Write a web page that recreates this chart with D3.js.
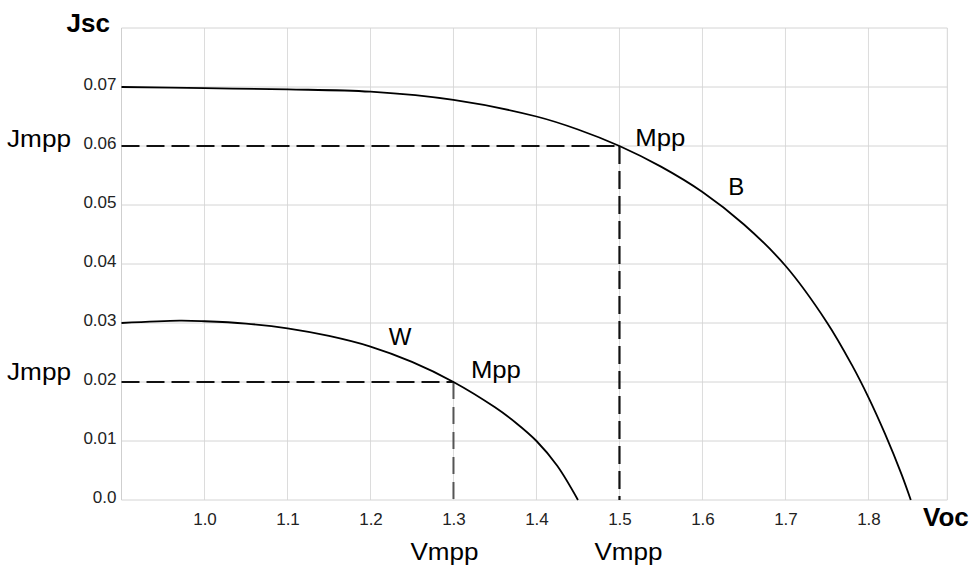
<!DOCTYPE html>
<html>
<head>
<meta charset="utf-8">
<script src="https://cdn.jsdelivr.net/npm/d3@7"></script>
<style>
  html, body { margin: 0; padding: 0; background: #fff; }
  svg { display: block; font-family: "Liberation Sans", Arial, Helvetica, sans-serif; }
</style>
</head>
<body>
<svg id="chart" width="971" height="567"></svg>
<script>
// ---- data ----
const bVoltage = [0.9, 1.0, 1.1, 1.2, 1.3, 1.4, 1.45, 1.5, 1.55, 1.6, 1.65, 1.7, 1.75, 1.78, 1.8, 1.82, 1.84, 1.851];
const bCurrent = [0.0700, 0.0698, 0.0696, 0.0692, 0.0678, 0.0650, 0.0628, 0.0600, 0.0565, 0.0522, 0.0467, 0.0397, 0.0301, 0.0229, 0.0174, 0.0112, 0.0043, 0.0];
const wVoltage = [0.9, 0.97, 1.0, 1.05, 1.1, 1.15, 1.2, 1.25, 1.3, 1.35, 1.375, 1.4, 1.425, 1.45];
const wCurrent = [0.0300, 0.0304, 0.0303, 0.0299, 0.0291, 0.0278, 0.0260, 0.0234, 0.0200, 0.0157, 0.0131, 0.0100, 0.0058, 0.0];
const xTicks = [1.0, 1.1, 1.2, 1.3, 1.4, 1.5, 1.6, 1.7, 1.8];
const xTickLabels = ["1.0", "1.1", "1.2", "1.3", "1.4", "1.5", "1.6", "1.7", "1.8"];
const yTicks = [0.0, 0.01, 0.02, 0.03, 0.04, 0.05, 0.06, 0.07];
const yTickLabels = ["0.0", "0.01", "0.02", "0.03", "0.04", "0.05", "0.06", "0.07"];
const mppB = { v: 1.5, j: 0.06 };
const mppW = { v: 1.3, j: 0.02 };
const xDomain = [0.9, 1.895];
const yDomain = [0, 0.08];

// ---- layout ----
const svg = d3.select("#chart");
const mLeft = 121.5, mRight = 947.3, mTop = 28, mBottom = 500;
const x = d3.scaleLinear().domain(xDomain).range([mLeft, mRight]);
const y = d3.scaleLinear().domain(yDomain).range([mBottom, mTop]);

// grid
const grid = svg.append("g");
grid.selectAll("line.vx").data(xTicks).join("line")
  .attr("x1", d => x(d)).attr("x2", d => x(d))
  .attr("y1", mTop).attr("y2", mBottom)
  .attr("stroke", "#dcdcdc").attr("stroke-width", 1);
grid.selectAll("line.hy").data(yTicks.concat([yDomain[1]])).join("line")
  .attr("x1", mLeft).attr("x2", mRight)
  .attr("y1", d => y(d)).attr("y2", d => y(d))
  .attr("stroke", "#d4d4d4").attr("stroke-width", 1);
grid.append("line").attr("x1", mLeft).attr("x2", mLeft).attr("y1", mTop).attr("y2", mBottom)
  .attr("stroke", "#cfcfcf");
grid.append("line").attr("x1", mRight).attr("x2", mRight).attr("y1", mTop).attr("y2", mBottom)
  .attr("stroke", "#d4d4d4");

// axes (labels only)
const xAxis = d3.axisBottom(x).tickValues(xTicks).tickSize(0).tickPadding(0)
  .tickFormat((d, i) => xTickLabels[i]);
const gx = svg.append("g").attr("transform", `translate(0,${mBottom})`).call(xAxis);
gx.select(".domain").remove();
gx.selectAll("text").attr("dy", null).attr("y", 25)
  .attr("font-size", 17).attr("fill", "#222").attr("font-family", "Liberation Sans, Arial, sans-serif");

const yAxis = d3.axisLeft(y).tickValues(yTicks).tickSize(0).tickPadding(0)
  .tickFormat((d, i) => yTickLabels[i]);
const gy = svg.append("g").attr("transform", `translate(${mLeft - 5},0)`).call(yAxis);
gy.select(".domain").remove();
gy.selectAll("text").attr("dy", null).attr("y", 2)
  .attr("font-size", 17).attr("fill", "#222").attr("font-family", "Liberation Sans, Arial, sans-serif");

// dashed guides
const dash = "18,7";
svg.append("line").attr("x1", x(xDomain[0])).attr("x2", x(mppB.v))
  .attr("y1", y(mppB.j)).attr("y2", y(mppB.j))
  .attr("stroke", "#111").attr("stroke-width", 2.2).attr("stroke-dasharray", dash);
svg.append("line").attr("x1", x(mppB.v)).attr("x2", x(mppB.v))
  .attr("y1", y(mppB.j)).attr("y2", y(0))
  .attr("stroke", "#111").attr("stroke-width", 2.2).attr("stroke-dasharray", dash);
svg.append("line").attr("x1", x(xDomain[0])).attr("x2", x(mppW.v))
  .attr("y1", y(mppW.j)).attr("y2", y(mppW.j))
  .attr("stroke", "#111").attr("stroke-width", 2.2).attr("stroke-dasharray", dash);
svg.append("line").attr("x1", x(mppW.v)).attr("x2", x(mppW.v))
  .attr("y1", y(mppW.j)).attr("y2", y(0))
  .attr("stroke", "#555").attr("stroke-width", 2).attr("stroke-dasharray", "17,8");

// curves
const line = d3.line().x(d => x(d[0])).y(d => y(d[1])).curve(d3.curveCatmullRom.alpha(0.5));
svg.append("path").datum(bVoltage.map((v, i) => [v, bCurrent[i]]))
  .attr("d", line).attr("fill", "none").attr("stroke", "#000").attr("stroke-width", 1.8);
svg.append("path").datum(wVoltage.map((v, i) => [v, wCurrent[i]]))
  .attr("d", line).attr("fill", "none").attr("stroke", "#000").attr("stroke-width", 1.8);

// annotation text
function label(txt, px, py, opts = {}) {
  const t = svg.append("text").attr("x", px).attr("y", py).text(txt)
    .attr("font-size", opts.size || 24)
    .attr("font-weight", opts.bold ? "bold" : "normal")
    .attr("fill", "#000");
  if (opts.anchor) t.attr("text-anchor", opts.anchor);
  if (opts.len) t.attr("textLength", opts.len).attr("lengthAdjust", "spacingAndGlyphs");
  return t;
}
label("Jsc", 110, 32, { size: 26, bold: true, anchor: "end" });
label("Voc", 923, 526, { size: 26, bold: true });
label("Jmpp", 7, y(mppB.j) + 1, { size: 23, len: 64 });
label("Jmpp", 7, y(mppW.j) - 2, { size: 23, len: 64 });
label("Mpp", x(1.519), y(0.06), { size: 24, len: 50 });
label("Mpp", x(1.321), y(0.0207), { size: 24, len: 50 });
label("B", x(1.631), y(0.0517), { size: 24 });
label("W", x(1.222), y(0.0263), { size: 24 });
label("Vmpp", x(1.3) - 43, 560, { size: 23, len: 68 });
label("Vmpp", x(1.5) - 25, 560, { size: 23, len: 68 });
</script>
</body>
</html>
